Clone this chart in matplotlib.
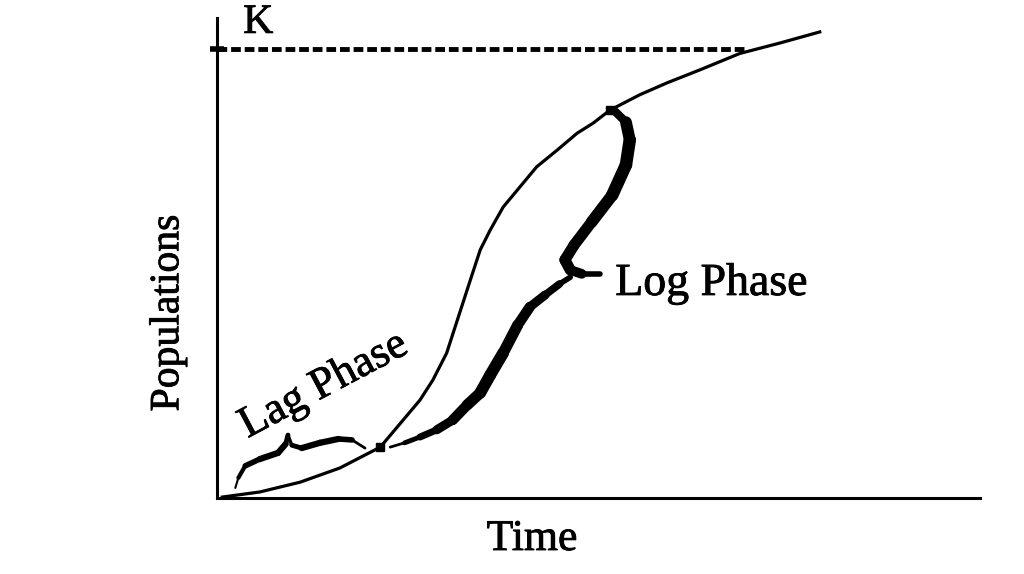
import numpy as np
import matplotlib
matplotlib.use("Agg")
import matplotlib.pyplot as plt
import matplotlib.patheffects as pe
from matplotlib.collections import LineCollection

# growth curve (time vs population)
time = [0.7, 5.6, 10.9, 16.1, 21.4, 24.4, 26.6, 28.3, 30.1, 31.2, 33.2, 34.5,
        35.8, 37.5, 39.7, 41.9, 44.6, 47.2, 49.3, 51.5, 55.4, 59.0, 63.3, 68.5,
        73.8, 79.0]
population = [0.2, 1.25, 3.3, 6.25, 10.6, 16.25, 20.4, 24.6, 30.2, 35.6, 45.4, 51.7,
              55.8, 60.6, 64.8, 69.0, 72.5, 76.0, 78.1, 80.8, 84.0, 86.5, 89.2, 92.6,
              94.8, 97.1]
K = 93.5
k_line_end = 69.5

# phase boundaries marked on the curve
nodes_x = [21.4, 51.5]
nodes_y = [10.6, 80.8]

# brace shapes (lag phase brace, log phase brace in two strokes)
lag_brace_x = [2.4, 2.8, 3.7, 5.6, 8.0, 9.0, 9.3, 9.8, 11.1, 13.5, 15.9, 17.7, 19.4]
lag_brace_y = [2.1, 4.2, 6.7, 8.1, 9.4, 11.25, 13.1, 11.0, 10.4, 11.5, 12.3, 12.1, 10.4]
lag_brace_w = [1.5, 3.0, 4.0, 4.5, 4.5, 3.5, 2.5, 3.5, 4.5, 4.5, 4.0, 2.0]

log_top_x = [52.0, 53.6, 54.1, 53.6, 51.8, 49.1, 46.8, 45.6, 46.3, 47.8, 50.2]
log_top_y = [80.8, 78.3, 74.6, 69.4, 63.1, 57.5, 52.7, 49.6, 47.5, 46.7, 46.7]
log_top_w = [6.0, 8.5, 9.0, 9.0, 8.5, 8.0, 8.0, 8.0, 7.0, 4.0]

log_low_x = [46.3, 44.9, 43.0, 41.0, 39.4, 37.5, 35.8, 34.5, 32.8, 30.9, 28.8,
             26.6, 24.6, 22.7]
log_low_y = [46.0, 44.6, 42.3, 39.8, 36.0, 30.2, 25.6, 21.9, 19.4, 16.25, 14.2,
             12.7, 11.5, 10.6]
log_low_w = [4.0, 5.5, 6.5, 7.5, 8.0, 8.5, 8.5, 8.0, 7.5, 6.5, 5.0, 3.5, 2.0]


def brace(ax, xs, ys, widths):
    pts = np.column_stack([xs, ys])
    segs = [pts[i:i + 2] for i in range(len(pts) - 1)]
    lc = LineCollection(segs, linewidths=widths, colors="black", capstyle="round",
                        joinstyle="round")
    ax.add_collection(lc)


plt.rcParams["font.family"] = ["Liberation Serif", "DejaVu Serif"]
ink = [pe.withStroke(linewidth=0.6, foreground="black")]

fig = plt.figure(figsize=(10.24, 5.74), dpi=100)
fig.patch.set_facecolor("white")
ax = fig.add_axes([217 / 1024, 76 / 574, 763 / 1024, 480 / 574])
ax.set_xlim(0, 100)
ax.set_ylim(0, 100)

for side in ["top", "right"]:
    ax.spines[side].set_visible(False)
for side in ["left", "bottom"]:
    ax.spines[side].set_linewidth(2.2)

ax.set_xticks([])
ax.set_yticks([K])
ax.set_yticklabels([""])
ax.tick_params(axis="y", direction="inout", length=10, width=4)

# carrying capacity
ax.plot([0, k_line_end], [K, K], color="black", lw=3.5, dashes=(2.0, 0.8),
        solid_capstyle="butt")
ax.text(5.4, 96.9, "K", fontsize=30, ha="center", va="baseline", clip_on=False,
        path_effects=ink)

# growth curve
ax.plot(time, population, color="black", lw=2.3, solid_joinstyle="round")
ax.plot(nodes_x, nodes_y, "s", color="black", ms=6)

brace(ax, lag_brace_x, lag_brace_y, lag_brace_w)
brace(ax, log_top_x, log_top_y, log_top_w)
brace(ax, log_low_x, log_low_y, log_low_w)

ax.text(14.0, 23.5, "Lag Phase", fontsize=32, rotation=28, ha="center", va="center",
        rotation_mode="anchor", path_effects=ink)
ax.text(52.2, 42.3, "Log Phase", fontsize=33, ha="left", va="baseline",
        path_effects=ink)

fig.text(532 / 1024, 1 - 550 / 574, "Time", fontsize=31.5, ha="center",
         va="baseline", path_effects=ink)
fig.text(168 / 1024, 1 - 313 / 574, "Populations", fontsize=30, rotation=90,
         ha="center", va="center", path_effects=ink)

fig.savefig("out.png", dpi=100)
